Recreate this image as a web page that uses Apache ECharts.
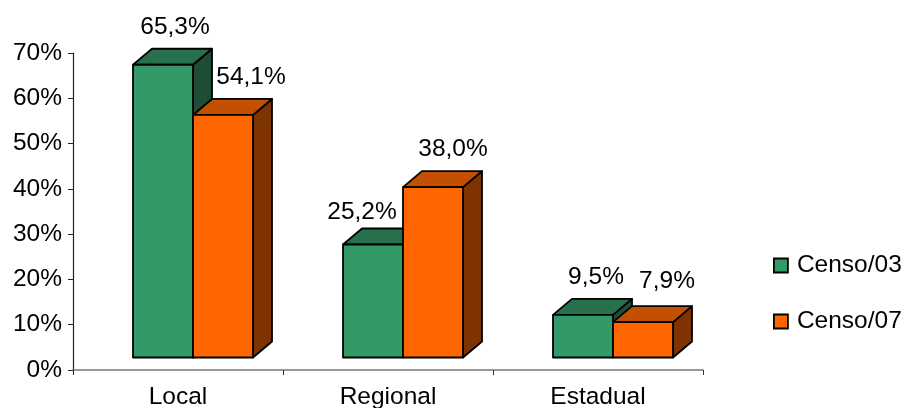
<!DOCTYPE html>
<html>
<head>
<meta charset="utf-8">
<script src="https://cdn.jsdelivr.net/npm/echarts@6/dist/echarts.min.js"></script>
<style>
html,body{margin:0;padding:0;background:#fff;}
#chart{width:907px;height:408px;}
</style>
</head>
<body>
<div id="chart"></div>
<script>
// ---- data ----
var categories = ['Local', 'Regional', 'Estadual'];
var seriesNames = ['Censo/03', 'Censo/07'];
var censo03 = [65.3, 25.2, 9.5];
var censo07 = [54.1, 38.0, 7.9];
var yTicks = { min: 0, max: 70, interval: 10 };

// ---- style ----
var FONT = "'Liberation Sans', Arial, sans-serif";
var FS = 24.5;
var BAR_W = 60;
var GROUP_LEFT = -45;   // front face of first bar relative to category centre
var DX = 19, DY = 16;   // 3D depth offset
var LIFT = 12.5;        // front face baseline above axis
var VSCALE = 0.99;
var faceColors = [
  { front: '#339966', top: '#28704b', side: '#1e4d36' },
  { front: '#ff6600', top: '#c25000', side: '#7f3300' }
];
// label offsets relative to front-top centre of each bar [series][category]
var labelOffsets = [
  [[12, -37], [-11, -32], [13, -38]],
  [[28, -38], [20, -38], [24, -41]]
];

function fmt(v) { return v.toFixed(1).replace('.', ',') + '%'; }

function makeRender(sIdx) {
  var c = faceColors[sIdx];
  return function (params, api) {
    var cat = api.value(0), v = api.value(1);
    var base = api.coord([cat, 0]);
    var tp = api.coord([cat, v]);
    var x0 = base[0] + GROUP_LEFT + sIdx * BAR_W;
    var x1 = x0 + BAR_W;
    var yb = base[1] - LIFT;
    var yt = yb - (base[1] - tp[1]) * VSCALE;
    var line = { stroke: '#000', lineWidth: 1.8, lineJoin: 'round' };
    var off = labelOffsets[sIdx][params.dataIndex];
    return {
      type: 'group',
      children: [
        { type: 'polygon', shape: { points: [[x1, yt], [x1 + DX, yt - DY], [x1 + DX, yb - DY], [x1, yb]] },
          style: Object.assign({ fill: c.side }, line) },
        { type: 'polygon', shape: { points: [[x0, yt], [x0 + DX, yt - DY], [x1 + DX, yt - DY], [x1, yt]] },
          style: Object.assign({ fill: c.top }, line) },
        { type: 'rect', shape: { x: x0, y: yt, width: BAR_W, height: yb - yt },
          style: Object.assign({ fill: c.front }, line) },
        { type: 'text',
          style: { text: fmt(v), x: (x0 + x1) / 2 + off[0], y: yt + off[1],
                   align: 'center', verticalAlign: 'middle',
                   textAlign: 'center', textVerticalAlign: 'middle',
                   fill: '#000', font: FS + 'px ' + FONT } }
      ]
    };
  };
}

function toData(arr) { return arr.map(function (v, i) { return [i, v]; }); }

var chart = echarts.init(document.getElementById('chart'));
chart.setOption({
  animation: false,
  backgroundColor: '#fff',
  textStyle: { fontFamily: FONT },
  grid: { left: 73, right: 204, top: 53, bottom: 38, containLabel: false, outerBoundsMode: 'none' },
  legend: {
    orient: 'vertical', left: 773, top: 253, padding: 0,
    itemWidth: 14, itemHeight: 14, itemGap: 31,
    icon: 'rect',
    textStyle: { fontSize: FS, color: '#000', fontFamily: FONT, padding: [0, 0, 0, 4] },
    data: [
      { name: seriesNames[0], itemStyle: { color: faceColors[0].front, borderColor: '#000', borderWidth: 1.8 } },
      { name: seriesNames[1], itemStyle: { color: faceColors[1].front, borderColor: '#000', borderWidth: 1.8 } }
    ]
  },
  xAxis: {
    type: 'category', data: categories, boundaryGap: true,
    axisLine: { lineStyle: { color: '#777', width: 1.5 } },
    axisTick: { show: true, length: 5, lineStyle: { color: '#333' } },
    axisLabel: { fontSize: FS, color: '#000', fontFamily: FONT, margin: 15 }
  },
  yAxis: {
    type: 'value', min: yTicks.min, max: yTicks.max, interval: yTicks.interval,
    splitLine: { show: false },
    axisLine: { show: true, lineStyle: { color: '#222', width: 1.2 } },
    axisTick: { show: true, length: 5, lineStyle: { color: '#222' } },
    axisLabel: { fontSize: FS, color: '#000', fontFamily: FONT, margin: 11, formatter: '{value}%' }
  },
  series: [
    { name: seriesNames[0], type: 'custom', clip: false, renderItem: makeRender(0),
      itemStyle: { color: faceColors[0].front }, data: toData(censo03), encode: { x: 0, y: 1 } },
    { name: seriesNames[1], type: 'custom', clip: false, renderItem: makeRender(1),
      itemStyle: { color: faceColors[1].front }, data: toData(censo07), encode: { x: 0, y: 1 } }
  ]
});
</script>
</body>
</html>
